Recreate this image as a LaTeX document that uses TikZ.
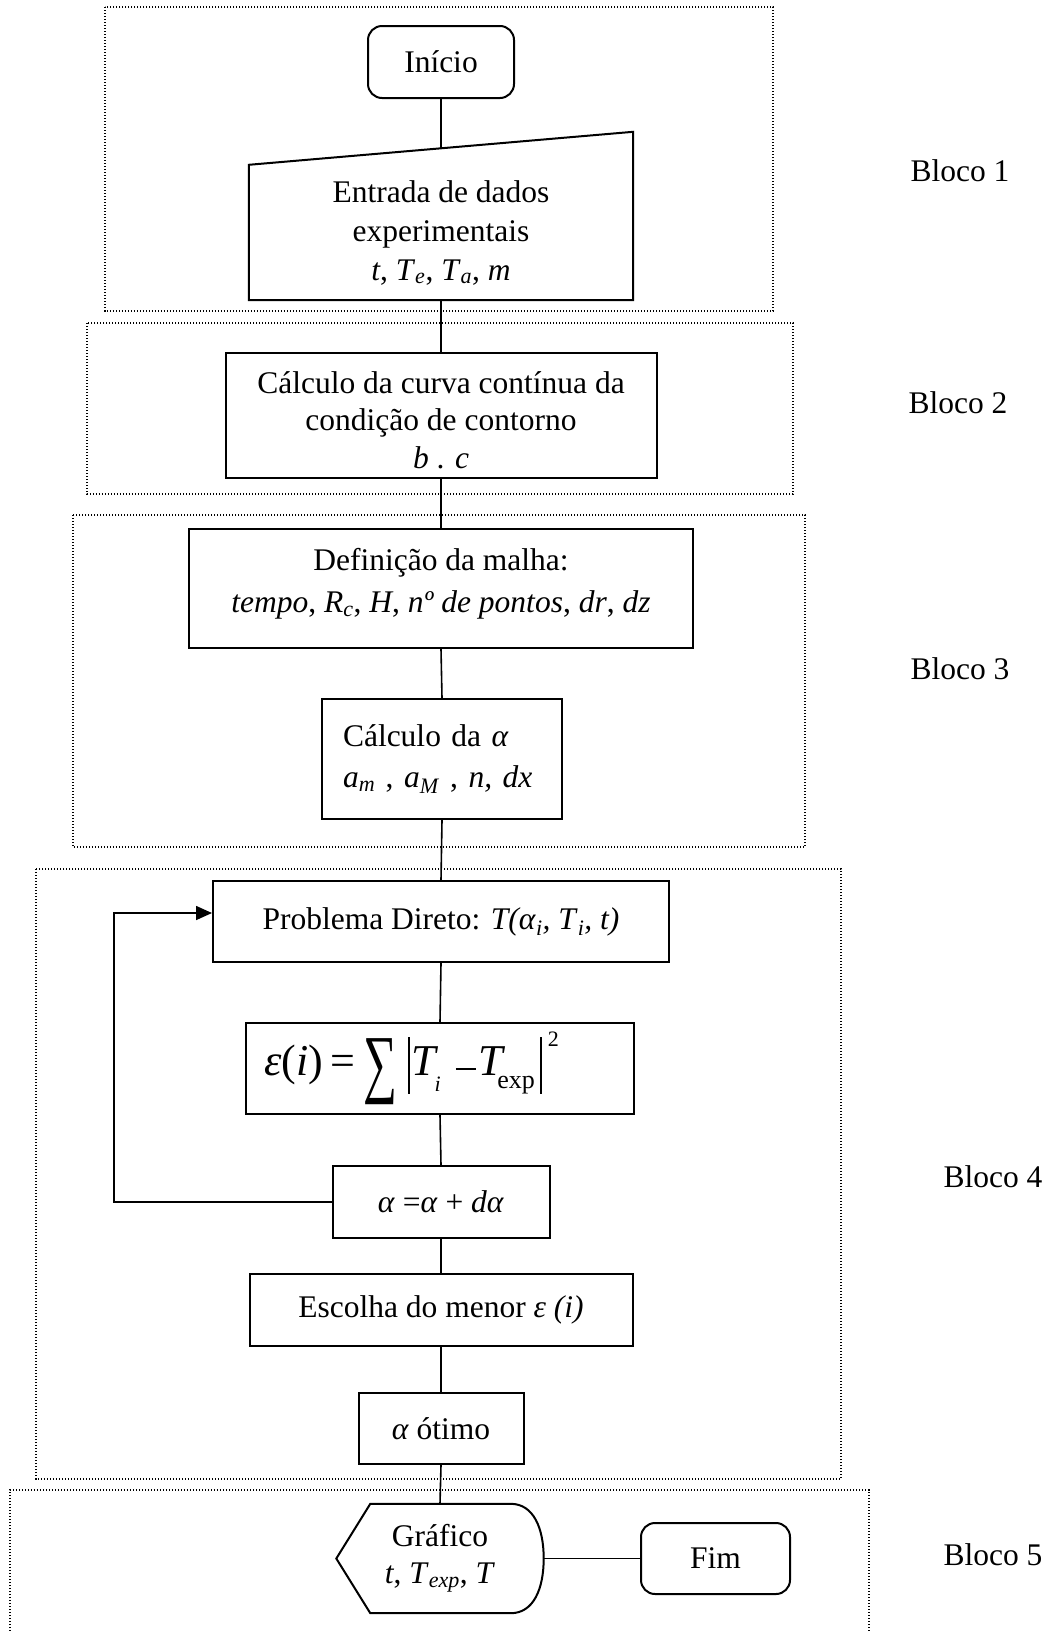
\documentclass[tikz,border=0pt]{standalone}
\usepackage{fontspec}
\usepackage{graphicx}
\setmainfont{Liberation Serif}
\usetikzlibrary{arrows.meta}

% text size used in every box; the argument is the line distance
\newcommand\boxfont[1]{\fontsize{31.5}{#1}\selectfont}
\newcommand\sub[1]{\textsubscript{\textit{#1}}}
% pieces of the error formula
\newcommand\bigbar{\rule[-18pt]{1.8pt}{57pt}}
\newcommand\bigsum{\raisebox{-13pt}{\scalebox{0.85}[1.36]{\fontsize{56}{56}\selectfont ∑}}}
\newcommand\minussign{\rule[5.5pt]{20pt}{1.8pt}}

\tikzset{
  outline/.style={draw, line width=2pt},
  box/.style={outline, inner sep=0pt, align=center, font=\boxfont{38}},
  term/.style={box, rounded corners=14pt},
  bare/.style={inner sep=0pt, align=center, font=\boxfont{38}},
  conn/.style={line width=1.6pt},
  group/.style={line width=1.3pt, dash pattern=on 1.3pt off 1.7pt},
  lbl/.style={font=\boxfont{38}, anchor=base, inner sep=0pt}
}

\begin{document}
\begin{tikzpicture}[x=1pt, y=-1pt]
\useasboundingbox (0,0) rectangle (1047,1631);

% dotted frames of the five blocks
\draw[group] (105,7) rectangle (773,311);
\draw[group] (87,323) rectangle (793,494);
\draw[group] (73,515) rectangle (805,847);
\draw[group] (36,869) rectangle (841,1479);
\draw[group] (10,1631) -- (10,1490) -- (869,1490) -- (869,1631);

% block names
\node[lbl] (b1) at (960,181) {Bloco 1};
\node[lbl] (b2) at (958,413) {Bloco 2};
\node[lbl] (b3) at (960,679) {Bloco 3};
\node[lbl] (b4) at (993,1187) {Bloco 4};
\node[lbl] (b5) at (993,1565) {Bloco 5};

% block 1
\node[term, minimum width=146, minimum height=72] (inicio) at (441,62) {Início};
\node[bare, font=\boxfont{39}, minimum width=384, minimum height=135] (entrada) at (441,232.5)
  {Entrada de dados\\experimentais\\\textit{t}, \textit{T}\sub{e}, \textit{T}\sub{a}, \textit{m}};
\draw[outline] (entrada.south west) -- (entrada.north west)
  -- ([yshift=33pt]entrada.north east) -- (entrada.south east) -- cycle;
\coordinate (entradain) at ([yshift=16.5pt]entrada.north);

% block 2
\node[box, font=\boxfont{37.5}, minimum width=431, minimum height=125] (curva) at (441,415)
  {\rule{0pt}{32pt}Cálculo da curva contínua da\\condição de contorno\\\textit{b} . \textit{c}};

% block 3
\node[box, font=\boxfont{42}, minimum width=504, minimum height=119] (malha) at (441,588.5)
  {Definição da malha:\\\textit{tempo}, \textit{R}\sub{c}, \textit{H}, \textit{nº de pontos}, \textit{dr}, \textit{dz}\rule[-16pt]{0pt}{0pt}};
\node[box, font=\boxfont{41}, align=left, text width=198pt, minimum width=240, minimum height=120] (alfa) at (442,759)
  {Cálculo da \textit{α}\\\textit{a}\sub{m} , \textit{a}\sub{M} , \textit{n, dx}};

% block 4
\node[box, minimum width=456, minimum height=81] (direto) at (441,921.5)
  {Problema Direto: \textit{T(α}\sub{i}\textit{, T}\sub{i}\textit{, t)}};
\node[box, font=\fontsize{44}{48}\selectfont, minimum width=388, minimum height=91] (erro) at (440,1068.5)
  {\textit{ε}(\textit{i})\hspace{7pt}=\hspace{9pt}\bigsum\hspace{10pt}\bigbar\hspace{2pt}\textit{T}\hspace{-4pt}\raisebox{-16pt}{\fontsize{22}{22}\selectfont\textit{i}}\hspace{15pt}\minussign\hspace{3pt}\textit{T}\hspace{-8.5pt}\raisebox{-13pt}{\fontsize{26}{26}\selectfont exp}\hspace{5pt}\bigbar\hspace{6pt}\raisebox{29pt}{\fontsize{22}{22}\selectfont 2}\hspace*{57pt}};
\node[box, minimum width=217, minimum height=72] (passo) at (441,1202)
  {\textit{α} =\textit{α} + \textit{dα}};
\node[box, minimum width=383, minimum height=72] (menor) at (441,1310)
  {Escolha do menor \textit{ε (i)}};
\node[box, minimum width=165, minimum height=71] (otimo) at (441,1428.5)
  {\textit{α} ótimo};
\coordinate (laco) at (114,1050);

% block 5
\node[bare, font=\boxfont{37}, minimum width=207, minimum height=109] (grafico) at (440,1558.5)
  {Gráfico\\\textit{t}, \textit{T}\sub{exp}, \textit{T}};
\draw[outline] (grafico.west) -- ([xshift=34pt]grafico.north west)
  -- ([xshift=-33pt]grafico.north east)
  .. controls ([xshift=-10pt]grafico.north east) and ([yshift=30pt]grafico.east) .. (grafico.east)
  .. controls ([yshift=-30pt]grafico.east) and ([xshift=-10pt]grafico.south east) .. ([xshift=-33pt]grafico.south east)
  -- ([xshift=34pt]grafico.south west) -- cycle;
\node[term, minimum width=149, minimum height=71] (fim) at (715.5,1558.5) {Fim};

% connectors
\draw[conn] (inicio.south) -- (entradain);
\draw[conn] (entrada.south) -- (curva.north);
\draw[conn] (curva.south) -- (malha.north);
\draw[conn] (malha.south) -- (alfa.north);
\draw[conn] (alfa.south) -- (direto.north);
\draw[conn] (direto.south) -- (erro.north);
\draw[conn] (erro.south) -- (passo.north);
\draw[conn] (passo.south) -- (menor.north);
\draw[conn] (menor.south) -- (otimo.north);
\draw[conn] (otimo.south) -- (grafico.north);
\draw[conn] (grafico.east) -- (fim.west);
\draw[conn, -{Triangle[length=16pt, width=14pt]}] (passo.west) -| (laco) |- ([yshift=8.5pt]direto.west);
\end{tikzpicture}
\end{document}
